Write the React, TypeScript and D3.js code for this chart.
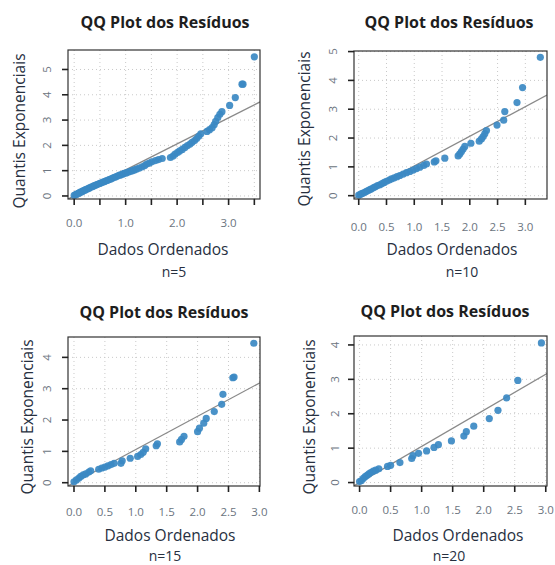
import React from "react";
import * as d3 from "d3";

// n=5
const n5X = [0.0, 0.03, 0.05, 0.08, 0.1, 0.12, 0.15, 0.17, 0.2, 0.22, 0.25, 0.28, 0.3, 0.33, 0.36, 0.38, 0.41, 0.44, 0.47, 0.5, 0.53, 0.56, 0.59, 0.62, 0.65, 0.68, 0.71, 0.74, 0.77, 0.8, 0.83, 0.87, 0.9, 0.94, 0.97, 1.01, 1.05, 1.09, 1.13, 1.17, 1.21, 1.26, 1.32, 1.37, 1.41, 1.46, 1.51, 1.58, 1.64, 1.71, 1.87, 1.92, 1.96, 2.01, 2.05, 2.1, 2.15, 2.2, 2.25, 2.29, 2.34, 2.38, 2.42, 2.46, 2.58, 2.63, 2.68, 2.72, 2.75, 2.79, 2.83, 2.87, 3.02, 3.13, 3.26, 3.28, 3.5];
const n5Y = [0.02, 0.05, 0.07, 0.1, 0.12, 0.15, 0.17, 0.2, 0.22, 0.25, 0.27, 0.3, 0.32, 0.35, 0.37, 0.4, 0.42, 0.45, 0.47, 0.5, 0.52, 0.55, 0.57, 0.6, 0.62, 0.65, 0.67, 0.7, 0.73, 0.75, 0.78, 0.81, 0.83, 0.86, 0.89, 0.91, 0.94, 0.97, 1.0, 1.03, 1.06, 1.1, 1.15, 1.2, 1.26, 1.3, 1.35, 1.4, 1.44, 1.48, 1.52, 1.58, 1.65, 1.72, 1.78, 1.84, 1.92, 1.99, 2.05, 2.12, 2.19, 2.27, 2.36, 2.46, 2.55, 2.62, 2.7, 2.82, 2.95, 3.1, 3.23, 3.33, 3.58, 3.89, 4.42, 4.42, 5.5];

// n=10
const n10X = [0.0, 0.03, 0.05, 0.08, 0.11, 0.14, 0.17, 0.2, 0.23, 0.27, 0.3, 0.34, 0.38, 0.42, 0.46, 0.5, 0.55, 0.59, 0.64, 0.69, 0.74, 0.8, 0.86, 0.92, 0.98, 1.04, 1.1, 1.17, 1.22, 1.36, 1.39, 1.55, 1.79, 1.82, 1.85, 1.88, 1.91, 2.02, 2.17, 2.21, 2.24, 2.27, 2.3, 2.49, 2.61, 2.63, 2.85, 2.95, 3.27];
const n10Y = [0.02, 0.04, 0.07, 0.09, 0.12, 0.15, 0.18, 0.21, 0.24, 0.28, 0.31, 0.35, 0.38, 0.42, 0.46, 0.5, 0.54, 0.58, 0.62, 0.66, 0.7, 0.75, 0.8, 0.84, 0.89, 0.94, 0.99, 1.05, 1.1, 1.17, 1.21, 1.3, 1.38, 1.45, 1.53, 1.62, 1.71, 1.82, 1.89, 1.97, 2.05, 2.15, 2.26, 2.45, 2.62, 2.92, 3.23, 3.75, 4.8];

// n=15
const n15X = [0.0, 0.04, 0.08, 0.11, 0.15, 0.19, 0.24, 0.27, 0.4, 0.45, 0.5, 0.55, 0.6, 0.65, 0.76, 0.78, 0.91, 1.03, 1.08, 1.12, 1.16, 1.33, 1.35, 1.71, 1.74, 1.78, 2.0, 2.03, 2.1, 2.14, 2.27, 2.39, 2.41, 2.57, 2.59, 2.91];
const n15Y = [0.03, 0.09, 0.15, 0.2, 0.25, 0.28, 0.34, 0.38, 0.43, 0.47, 0.5, 0.54, 0.58, 0.62, 0.62, 0.7, 0.78, 0.84, 0.9, 0.97, 1.08, 1.18, 1.24, 1.3, 1.38, 1.48, 1.63, 1.74, 1.9, 2.05, 2.27, 2.5, 2.82, 3.35, 3.37, 4.45];

// n=20
const n20X = [0.0, 0.03, 0.06, 0.09, 0.12, 0.15, 0.18, 0.22, 0.26, 0.31, 0.45, 0.5, 0.65, 0.84, 0.86, 0.95, 1.08, 1.2, 1.27, 1.48, 1.68, 1.72, 1.84, 2.09, 2.23, 2.37, 2.55, 2.93];
const n20Y = [0.03, 0.06, 0.12, 0.17, 0.21, 0.25, 0.29, 0.33, 0.36, 0.4, 0.47, 0.5, 0.58, 0.7, 0.78, 0.85, 0.92, 1.02, 1.1, 1.21, 1.35, 1.48, 1.64, 1.86, 2.1, 2.46, 2.97, 4.06];

const sampleLabels = ["n=5", "n=10", "n=15", "n=20"];
const refSlopes = [1.03, 1.03, 1.06, 1.05];
const xTicksWide = [0, 0.5, 1, 1.5, 2, 2.5, 3, 3.5];
const xLabelsWide = [0, 1, 2, 3];
const xTicksNarrow = [0, 0.5, 1, 1.5, 2, 2.5, 3];
const yTicks5 = [0, 1, 2, 3, 4, 5];
const yTicks4 = [0, 1, 2, 3, 4];

const FONT = "'Open Sans', 'Noto Sans', sans-serif";
const TEXT = "#27303f";
const TICKTXT = "#6b7480";

const panels = [
  { xs: n5X, ys: n5Y, xDomain: [-0.12, 3.61], yDomain: [-0.12, 5.77], xTicks: xTicksWide, xLabeled: xLabelsWide, yTicks: yTicks5,
    box: [68, 50, 260, 199], titleX: 165, titleY: 28, yLabX: 20, yLabY: 131, yTickX: 47, xTickY: 227, xLabX: 163, xLabY: 255, nX: 174, nY: 277 },
  { xs: n10X, ys: n10Y, xDomain: [-0.085, 3.39], yDomain: [-0.115, 5.02], xTicks: xTicksNarrow, xLabeled: xTicksNarrow, yTicks: yTicks5,
    box: [354, 51, 547, 199], titleX: 449, titleY: 28, yLabX: 305, yLabY: 129, yTickX: 333, xTickY: 231, xLabX: 452, xLabY: 255, nX: 462, nY: 277 },
  { xs: n15X, ys: n15Y, xDomain: [-0.097, 3.01], yDomain: [-0.105, 4.65], xTicks: xTicksNarrow, xLabeled: xTicksNarrow, yTicks: yTicks4,
    box: [68, 337, 260, 486], titleX: 164, titleY: 318, yLabX: 28, yLabY: 417, yTickX: 47, xTickY: 516, xLabX: 170, xLabY: 541, nX: 165, nY: 561 },
  { xs: n20X, ys: n20Y, xDomain: [-0.09, 3.02], yDomain: [-0.1, 4.26], xTicks: xTicksNarrow, xLabeled: xTicksNarrow, yTicks: yTicks4,
    box: [354, 336, 547, 486], titleX: 445, titleY: 317, yLabX: 310, yLabY: 417, yTickX: 335, xTickY: 514, xLabX: 458, xLabY: 541, nX: 449, nY: 561 },
];

const fmt = d3.format(".1f");

function Panel({ p, i }: { p: any; i: number }) {
  const [x0, y0, x1, y1] = p.box;
  const x = d3.scaleLinear().domain(p.xDomain).range([x0, x1]);
  const y = d3.scaleLinear().domain(p.yDomain).range([y1, y0]);
  const slope = refSlopes[i];
  const line = d3.line<number>().x((d) => x(d)).y((d) => y(d * slope));
  const clipId = `clip${i}`;

  return (
    <g>
      <clipPath id={clipId}>
        <rect x={x0} y={y0} width={x1 - x0} height={y1 - y0} />
      </clipPath>
      {/* grid */}
      {p.xTicks.map((t: number) => (
        <line key={"gx" + t} x1={x(t)} x2={x(t)} y1={y0} y2={y1} stroke="#c9c9c9" strokeDasharray="1,3" />
      ))}
      {p.yTicks.map((t: number) => (
        <line key={"gy" + t} x1={x0} x2={x1} y1={y(t)} y2={y(t)} stroke="#c9c9c9" strokeDasharray="1,3" />
      ))}
      {/* reference line */}
      <path d={line(p.xDomain) || ""} stroke="#8a8a8a" strokeWidth={1.3} fill="none" clipPath={`url(#${clipId})`} />
      {/* points */}
      {p.xs.map((v: number, k: number) => (
        <circle key={k} cx={x(v)} cy={y(p.ys[k])} r={3.6} fill="#3b89c3" fillOpacity={0.92} />
      ))}
      <rect x={x0} y={y0} width={x1 - x0} height={y1 - y0} fill="none" stroke="#333" strokeWidth={1.2} />
      {/* x axis */}
      {p.xTicks.map((t: number) => (
        <line key={"tx" + t} x1={x(t)} x2={x(t)} y1={y1} y2={y1 + 6} stroke="#222" strokeWidth={1.6} />
      ))}
      {p.xLabeled.map((t: number) => (
        <text key={"lx" + t} x={x(t)} y={p.xTickY} textAnchor="middle" fontSize={11.5} fill={TICKTXT} fontFamily={FONT}>
          {fmt(t)}
        </text>
      ))}
      {/* y axis */}
      {p.yTicks.map((t: number) => (
        <line key={"ty" + t} x1={x0 - 6} x2={x0} y1={y(t)} y2={y(t)} stroke="#222" strokeWidth={1.6} />
      ))}
      {p.yTicks.map((t: number) => (
        <text key={"ly" + t} transform={`translate(${p.yTickX},${y(t)}) rotate(-90)`} textAnchor="middle" dy="0.35em"
          fontSize={11.5} fill={TICKTXT} fontFamily={FONT}>
          {t}
        </text>
      ))}
      <text x={p.titleX} y={p.titleY} textAnchor="middle" fontSize={16} fontWeight="bold" fill="#1e1e1e" fontFamily={FONT}>
        QQ Plot dos Resíduos
      </text>
      <text transform={`translate(${p.yLabX},${p.yLabY}) rotate(-90)`} textAnchor="middle" dy="0.35em" fontSize={15.5}
        fill={TEXT} fontFamily={FONT}>
        Quantis Exponenciais
      </text>
      <text x={p.xLabX} y={p.xLabY} textAnchor="middle" fontSize={15.5} fill={TEXT} fontFamily={FONT}>
        Dados Ordenados
      </text>
      <text x={p.nX} y={p.nY} textAnchor="middle" fontSize={14} fill={TEXT} fontFamily={FONT}>
        {sampleLabels[i]}
      </text>
    </g>
  );
}

export default function App() {
  return (
    <svg width={555} height={565} style={{ position: "absolute", left: 0, top: 0, background: "#fff" }}>
      {panels.map((p, i) => (
        <Panel key={i} p={p} i={i} />
      ))}
    </svg>
  );
}
